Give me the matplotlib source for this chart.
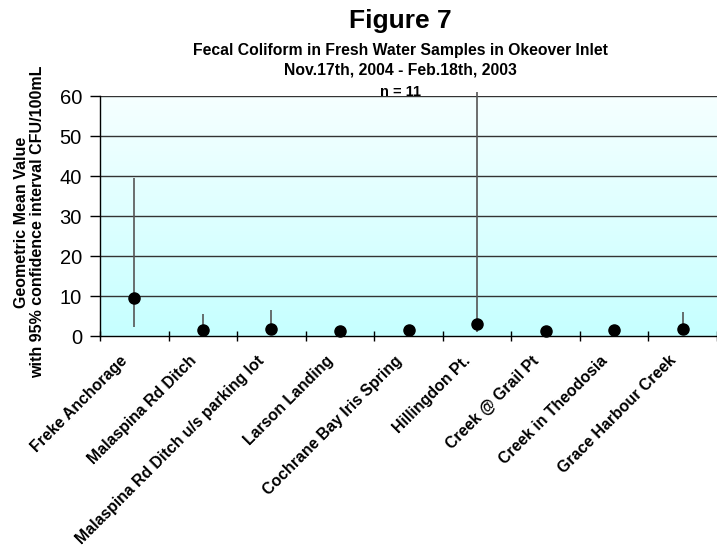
import numpy as np
import matplotlib.pyplot as plt
import matplotlib.transforms as mtransforms
from matplotlib.colors import LinearSegmentedColormap

plt.rcParams['font.family'] = ['Liberation Sans', 'DejaVu Sans']

# Sampling sites and geometric means with 95% confidence limits
sites = ['Freke Anchorage', 'Malaspina Rd Ditch', 'Malaspina Rd Ditch u/s parking lot',
         'Larson Landing', 'Cochrane Bay Iris Spring', 'Hillingdon Pt.',
         'Creek @ Grail Pt', 'Creek in Theodosia', 'Grace Harbour Creek']
geo_mean = [9.6, 1.5, 1.75, 1.25, 1.5, 3.0, 1.3, 1.5, 1.75]
ci_low = [2.3, 1.5, 1.75, 1.25, 1.5, 1.1, 1.3, 1.5, 1.75]
ci_high = [39.5, 5.4, 6.5, 1.25, 1.5, 61.0, 1.3, 1.5, 6.0]

fig = plt.figure(figsize=(7.17, 5.48), dpi=100)
ax = fig.add_axes([100 / 717, 1 - 336 / 548, 617 / 717, 240 / 548])

x = np.arange(len(sites))
ax.set_xlim(-0.5, len(sites) - 0.5)
ax.set_ylim(0, 60)

# pale cyan gradient fill behind the data
cmap = LinearSegmentedColormap.from_list('bg', ['#c6ffff', '#f6ffff'])
grad = np.linspace(0, 1, 256).reshape(-1, 1)
ax.imshow(grad, cmap=cmap, origin='lower', aspect='auto',
          extent=[-0.5, len(sites) - 0.5, 0, 60], zorder=0)

for yv in range(10, 70, 10):
    ax.axhline(yv, color='#333333', lw=1.0, zorder=1)

gm = np.array(geo_mean)
yerr = [gm - np.array(ci_low), np.array(ci_high) - gm]
ax.errorbar(x, gm, yerr=yerr, fmt='o', color='black', ms=8,
            ecolor='#555555', elinewidth=1.2, capsize=0, clip_on=False, zorder=3)

ax.set_yticks(range(0, 70, 10))
ax.tick_params(axis='y', labelsize=14.5, length=7, width=1, direction='out', pad=6)
ax.set_xticks(np.arange(len(sites) + 1) - 0.5, minor=False)
ax.set_xticklabels([])
ax.tick_params(axis='x', length=7, width=1, direction='inout')
ax.set_xticks(x, minor=True)
ax.set_xticklabels(sites, minor=True, rotation=45, ha='right', va='center',
                   rotation_mode='anchor', fontsize=11.4, fontweight='bold')
ax.tick_params(axis='x', which='minor', length=0, pad=16)
shift = mtransforms.ScaledTranslation(-9 / 100, 0, fig.dpi_scale_trans)
for lbl in ax.get_xticklabels(minor=True):
    lbl.set_transform(lbl.get_transform() + shift)

for s in ['top', 'right']:
    ax.spines[s].set_visible(False)
ax.spines['left'].set_linewidth(1)
ax.spines['bottom'].set_linewidth(1)

ax.set_ylabel('Geometric Mean Value\nwith 95% confidence interval CFU/100mL',
              fontsize=11.5, fontweight='bold', linespacing=1.05)
ax.yaxis.set_label_coords(-55 / 617, 0.475)

fig.text(0.558, 0.962, 'Figure 7', ha='center', va='center', fontsize=19, fontweight='bold')
fig.text(0.558, 0.908, 'Fecal Coliform in Fresh Water Samples in Okeover Inlet',
         ha='center', va='center', fontsize=11.3, fontweight='bold')
fig.text(0.558, 0.872, 'Nov.17th, 2004 - Feb.18th, 2003',
         ha='center', va='center', fontsize=11.3, fontweight='bold')
fig.text(0.559, 0.832, 'n = 11', ha='center', va='center', fontsize=10.5, fontweight='bold')

fig.savefig('out.png', dpi=100)
